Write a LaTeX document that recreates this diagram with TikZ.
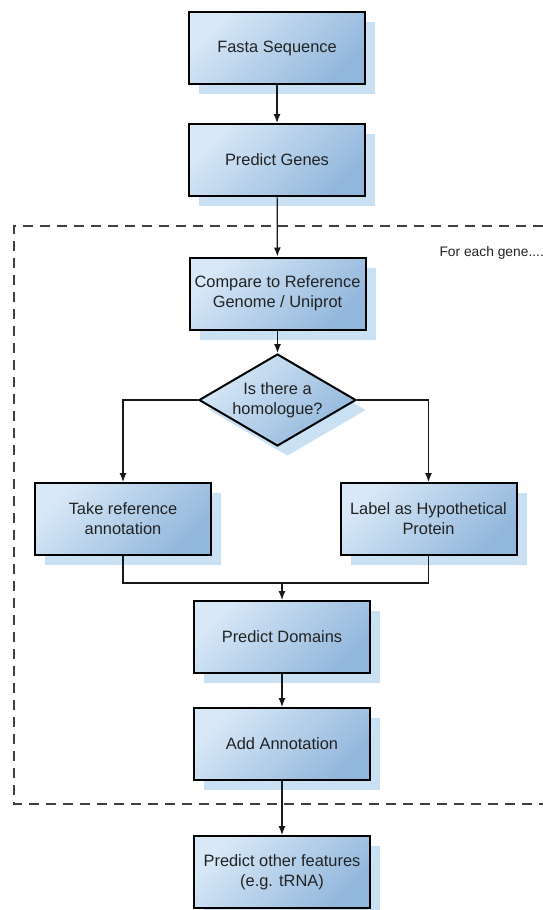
\documentclass[tikz,border=0pt]{standalone}
\usepackage{fontspec}
\setmainfont{Liberation Sans}
\usetikzlibrary{arrows.meta,shapes.geometric}
\definecolor{boxlight}{RGB}{216,232,247}
\definecolor{boxdark}{RGB}{146,183,220}
\definecolor{shadowc}{RGB}{202,224,243}
\definecolor{txt}{RGB}{34,34,34}
\begin{document}
\begin{tikzpicture}[x=1pt,y=-1pt,
  boxshadow/.style={preaction={fill=shadowc,draw=none,transform canvas={shift={(10pt,-10pt)}}}},
  boxfill/.style={draw=black, line width=2pt, top color=boxlight, bottom color=boxdark, shading angle=45},
  boxtext/.style={align=center, text=txt, font=\fontsize{16.4}{19.8}\selectfont},
  stepbox/.style={boxshadow, boxfill, boxtext, minimum width=176pt, minimum height=72pt, inner sep=2pt},
  decision/.style={shape=diamond, boxshadow, boxfill, boxtext, aspect=1.69, inner sep=0pt, minimum width=157pt, minimum height=92pt},
  flow/.style={-{Latex[length=9pt,width=7pt]}, line width=1.2pt, draw=black!90},
  joinline/.style={line width=1.2pt, draw=black!90},
  frame/.style={line width=1.8pt, draw=black!75, dash pattern=on 10pt off 7pt}
]
\useasboundingbox (0,0) rectangle (543,910);

% dashed frame (its right side runs off the picture)
\draw[frame] (560,226) -- (14,226) -- (14,804) -- (560,804);
\node[anchor=west, text=txt, font=\fontsize{13.8}{16}\selectfont] (each) at (436,253) {For each gene....};

\node[stepbox] (fasta)   at (277,48)    {Fasta Sequence};
\node[stepbox] (genes)   at (277,160)   {Predict Genes};
\node[stepbox] (compare) at (277.5,293.5) {Compare to Reference\\Genome / Uniprot};
\node[decision] (hom)    at (277.5,400) {Is there a\\homologue?};
\node[stepbox] (take)    at (123,519)   {Take reference\\annotation};
\node[stepbox] (label)   at (428.5,519) {Label as Hypothetical\\Protein};
\node[stepbox] (domains) at (282,637)   {Predict Domains};
\node[stepbox] (annot)   at (282,744)   {Add Annotation};
\node[stepbox] (other)   at (282,872)   {Predict other features\\(e.g. tRNA)};

\coordinate (j) at (282,583);

\draw[flow] (fasta) -- (genes);
\draw[flow] (genes) -- (compare);
\draw[flow] (compare) -- (hom);
\draw[flow] (hom.west) -| (take.north);
\draw[flow] (hom.east) -| (label.north);
\draw[joinline] (take.south) |- (j) -| (label.south);
\draw[flow] (j) -- (domains.north);
\draw[flow] (domains) -- (annot);
\draw[flow] (annot) -- (other);
\end{tikzpicture}
\end{document}
